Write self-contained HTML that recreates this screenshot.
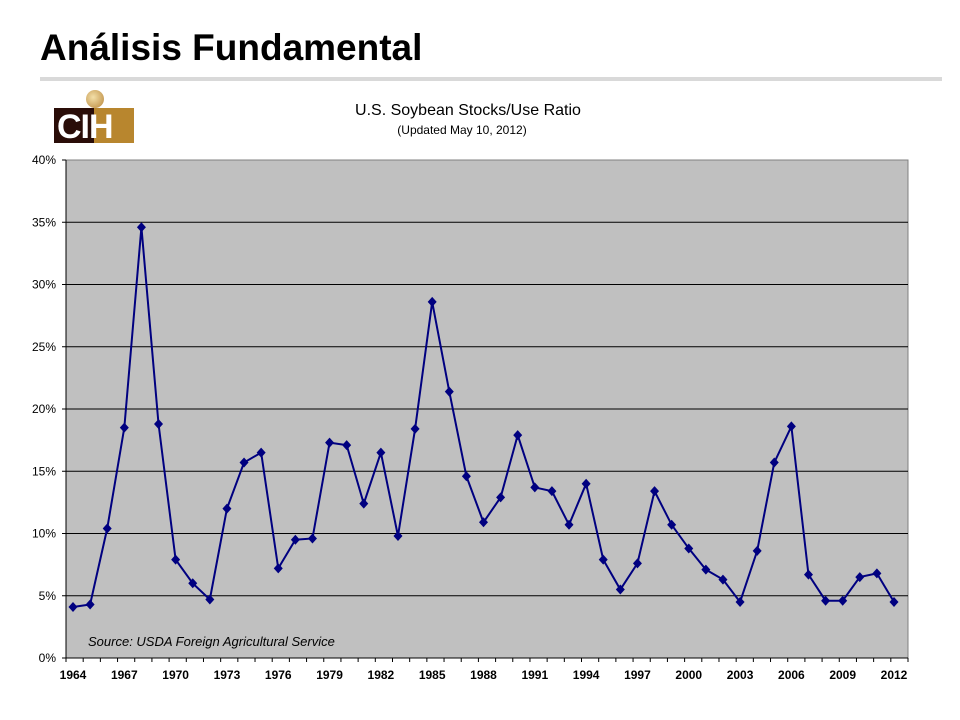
<!DOCTYPE html>
<html><head><meta charset="utf-8"><style>
body{margin:0;background:#fff;width:960px;height:720px;overflow:hidden;font-family:"Liberation Sans",sans-serif}
</style></head><body>
<div style="position:absolute;left:40px;top:27px;font-size:37px;font-weight:bold;color:#000">Análisis Fundamental</div>
<div style="position:absolute;left:40px;top:77px;width:902px;height:4px;background:#d9d9d9"></div>
<div style="position:absolute;left:54px;top:90px;width:80px;height:53px;overflow:hidden">
  <div style="position:absolute;left:32px;top:0;width:18px;height:18px;border-radius:50%;background:radial-gradient(circle at 40% 40%,#f3dfa8,#b8863a)"></div>
  <div style="position:absolute;left:0;top:18px;width:40px;height:35px;background:#2a0d08"></div>
  <div style="position:absolute;left:40px;top:18px;width:40px;height:35px;background:#b8862e"></div>
  <div style="position:absolute;left:3px;top:18px;font-size:34px;font-weight:bold;color:#fff;letter-spacing:-1px">CIH</div>
</div>
<svg id="chart" width="960" height="720" style="position:absolute;left:0;top:0">
<text x="468" y="115" text-anchor="middle" font-size="16">U.S. Soybean Stocks/Use Ratio</text>
<text x="462" y="134" text-anchor="middle" font-size="12">(Updated May 10, 2012)</text>
<rect x="66" y="160" width="842" height="498" fill="#c0c0c0" stroke="#808080"/>
<g id="grid"></g><g id="yt"></g><g id="xt"></g>
<text x="88" y="646" font-size="13" font-style="italic" fill="#000">Source: USDA Foreign Agricultural Service</text>
<g id="series"></g>
</svg>
<script>
const years=[1964,1965,1966,1967,1968,1969,1970,1971,1972,1973,1974,1975,1976,1977,1978,1979,1980,1981,1982,1983,1984,1985,1986,1987,1988,1989,1990,1991,1992,1993,1994,1995,1996,1997,1998,1999,2000,2001,2002,2003,2004,2005,2006,2007,2008,2009,2010,2011,2012];
const ratios=[4.1,4.3,10.4,18.5,34.6,18.8,7.9,6.0,4.7,12.0,15.7,16.5,7.2,9.5,9.6,17.3,17.1,12.4,16.5,9.8,18.4,28.6,21.4,14.6,10.9,12.9,17.9,13.7,13.4,10.7,14.0,7.9,5.5,7.6,13.4,10.7,8.8,7.1,6.3,4.5,8.6,15.7,18.6,6.7,4.6,4.6,6.5,6.8,4.5];
const yTicks=[0,5,10,15,20,25,30,35,40];
const xLabels=[1964,1967,1970,1973,1976,1979,1982,1985,1988,1991,1994,1997,2000,2003,2006,2009,2012];
const NS="http://www.w3.org/2000/svg";
const X=y=>73+(y-1964)*(894-73)/48;
const Y=v=>658-v*(498/40);
function mk(t,a,p){const e=document.createElementNS(NS,t);for(const k in a)e.setAttribute(k,a[k]);p.appendChild(e);return e;}
const grid=document.getElementById('grid'),yt=document.getElementById('yt'),xt=document.getElementById('xt'),ser=document.getElementById('series');
yTicks.forEach(v=>{
  if(v>0&&v<40){const l=mk('line',{x1:66,x2:908,y1:Y(v),y2:Y(v),stroke:'#000','stroke-width':1},grid);
  
  }
  mk('line',{x1:62,x2:66,y1:Y(v),y2:Y(v),stroke:'#000'},yt);
  const t=mk('text',{x:56,y:Y(v)+4,'text-anchor':'end','font-size':12},yt);t.textContent=v+'%';
  
  
});
mk('line',{x1:66,x2:66,y1:160,y2:658,stroke:'#000'},yt);
mk('line',{x1:66,x2:908,y1:658,y2:658,stroke:'#000'},xt);
for(let y=1964;y<=2013;y++){const xx=66+(y-1964)*(842/49);mk('line',{x1:xx,x2:xx,y1:658,y2:662,stroke:'#000'},xt);}
xLabels.forEach(y=>{const t=mk('text',{x:X(y),y:679,'text-anchor':'middle','font-size':12,'font-weight':'bold'},xt);t.textContent=y;
  
  });
const pl=mk('polyline',{points:years.map((y,i)=>X(y)+','+Y(ratios[i])).join(' '),fill:'none',stroke:'#000080','stroke-width':2},ser);


years.forEach((y,i)=>{const cx=X(y),cy=Y(ratios[i]);
  const m=mk('polygon',{points:`${cx},${cy-5} ${cx+4.5},${cy} ${cx},${cy+5} ${cx-4.5},${cy}`,fill:'#000080'},ser);
  
  });
</script>
</body></html>
